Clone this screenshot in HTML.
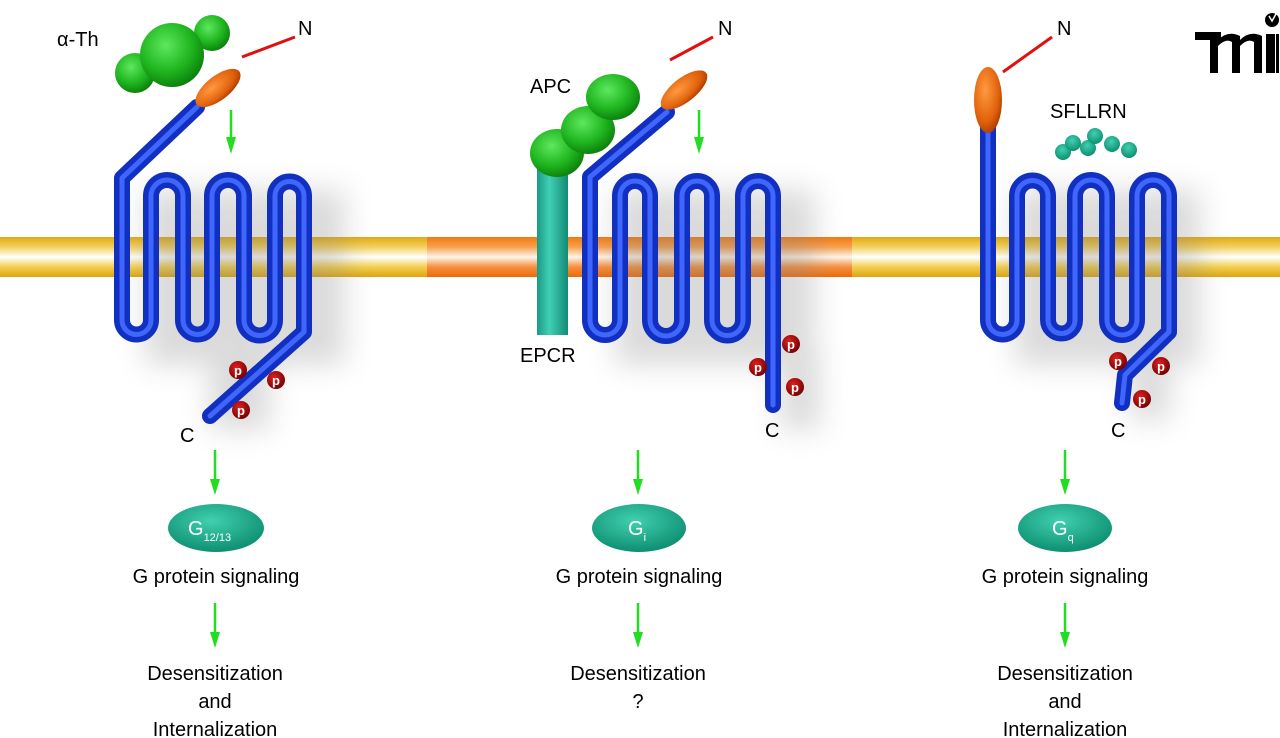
<!DOCTYPE html>
<html><head><meta charset="utf-8"><style>
html,body{margin:0;padding:0;background:#fff;}
svg{display:block;font-family:"Liberation Sans",sans-serif;}
</style></head><body>
<svg width="1280" height="738" viewBox="0 0 1280 738" xmlns="http://www.w3.org/2000/svg">
<defs>
<linearGradient id="mem" x1="0" y1="0" x2="0" y2="1">
<stop offset="0" stop-color="#e2aa10"/><stop offset="0.25" stop-color="#f3d060"/><stop offset="0.5" stop-color="#ffffff"/><stop offset="0.75" stop-color="#f3cf50"/><stop offset="1" stop-color="#dda410"/></linearGradient>
<linearGradient id="memo" x1="0" y1="0" x2="0" y2="1">
<stop offset="0" stop-color="#f07a10"/><stop offset="0.25" stop-color="#f8a050"/><stop offset="0.5" stop-color="#fff4ea"/><stop offset="0.75" stop-color="#f59040"/><stop offset="1" stop-color="#ec6a08"/></linearGradient>
<radialGradient id="grn" cx="0.4" cy="0.35" r="0.7"><stop offset="0" stop-color="#5ee85e"/><stop offset="0.6" stop-color="#1eb41e"/><stop offset="1" stop-color="#0a7a0a"/></radialGradient>
<radialGradient id="org" cx="0.4" cy="0.35" r="0.7"><stop offset="0" stop-color="#ff9a40"/><stop offset="0.7" stop-color="#e0600a"/><stop offset="1" stop-color="#a83a00"/></radialGradient>
<radialGradient id="teal" cx="0.45" cy="0.35" r="0.7"><stop offset="0" stop-color="#40d0b0"/><stop offset="1" stop-color="#0a8a6c"/></radialGradient>
<radialGradient id="pr" cx="0.4" cy="0.35" r="0.7"><stop offset="0" stop-color="#e02020"/><stop offset="1" stop-color="#700000"/></radialGradient>
<linearGradient id="epcr" x1="0" y1="0" x2="1" y2="0"><stop offset="0" stop-color="#1a9a84"/><stop offset="0.4" stop-color="#40d0b4"/><stop offset="1" stop-color="#128a74"/></linearGradient>
<filter id="sh" x="-30%" y="-30%" width="160%" height="160%"><feGaussianBlur stdDeviation="14"/></filter>
</defs>

<!-- membrane -->
<rect x="0" y="237" width="427" height="40" fill="url(#mem)"/>
<rect x="427" y="237" width="425" height="40" fill="url(#memo)"/>
<rect x="852" y="237" width="428" height="40" fill="url(#mem)"/>

<!-- shadows -->
<g filter="url(#sh)" fill="#888" opacity="0.3">
<rect x="145" y="190" width="200" height="175"/>
<rect x="615" y="190" width="200" height="175"/>
<rect x="1015" y="190" width="185" height="175"/>
<rect x="210" y="350" width="60" height="80"/>
<rect x="780" y="350" width="40" height="80"/>
<rect x="1130" y="350" width="40" height="70"/>
</g>

<!-- receptor paths -->
<g fill="none" stroke-linejoin="round" stroke-linecap="round">
<path d="M197,107 L122,178 L122,320 A14.5,14.5 0 0 0 151,320 L151,196 A16,16 0 0 1 183,196 L183,320 A14.5,14.5 0 0 0 212,320 L212,196 A16,16 0 0 1 244,196 L244,320 A15.5,15.5 0 0 0 275,320 L275,196 A14.5,14.5 0 0 1 304,196 L304,332 L210,416" stroke="#1230c0" stroke-width="16"/>
<path d="M197,107 L122,178 L122,320 A14.5,14.5 0 0 0 151,320 L151,196 A16,16 0 0 1 183,196 L183,320 A14.5,14.5 0 0 0 212,320 L212,196 A16,16 0 0 1 244,196 L244,320 A15.5,15.5 0 0 0 275,320 L275,196 A14.5,14.5 0 0 1 304,196 L304,332 L210,416" stroke="#3f66ff" stroke-width="5"/>

<path d="M667,112 L590,177 L590,320 A15,15 0 0 0 620,320 L620,196 A15,15 0 0 1 650,196 L650,320 A16,16 0 0 0 682,320 L682,196 A15,15 0 0 1 712,196 L712,320 A15.5,15.5 0 0 0 743,320 L743,196 A15,15 0 0 1 773,196 L773,405" stroke="#1230c0" stroke-width="16"/>
<path d="M667,112 L590,177 L590,320 A15,15 0 0 0 620,320 L620,196 A15,15 0 0 1 650,196 L650,320 A16,16 0 0 0 682,320 L682,196 A15,15 0 0 1 712,196 L712,320 A15.5,15.5 0 0 0 743,320 L743,196 A15,15 0 0 1 773,196 L773,405" stroke="#3f66ff" stroke-width="5"/>

<path d="M988,125 L988,320 A14.5,14.5 0 0 0 1017,320 L1017,196 A15.5,15.5 0 0 1 1048,196 L1048,320 A13.5,13.5 0 0 0 1075,320 L1075,196 A16,16 0 0 1 1107,196 L1107,320 A15,15 0 0 0 1137,320 L1137,196 A16,16 0 0 1 1169,196 L1169,332 L1125,375 L1122,403" stroke="#1230c0" stroke-width="16"/>
<path d="M988,125 L988,320 A14.5,14.5 0 0 0 1017,320 L1017,196 A15.5,15.5 0 0 1 1048,196 L1048,320 A13.5,13.5 0 0 0 1075,320 L1075,196 A16,16 0 0 1 1107,196 L1107,320 A15,15 0 0 0 1137,320 L1137,196 A16,16 0 0 1 1169,196 L1169,332 L1125,375 L1122,403" stroke="#3f66ff" stroke-width="5"/>
</g>

<!-- EPCR and APC -->
<rect x="537" y="165" width="31" height="170" fill="url(#epcr)"/>
<ellipse cx="557" cy="153" rx="27" ry="24" fill="url(#grn)"/>
<ellipse cx="588" cy="130" rx="27" ry="24" fill="url(#grn)"/>
<ellipse cx="613" cy="97" rx="27" ry="23" fill="url(#grn)"/>

<!-- thrombin -->
<circle cx="212" cy="33" r="18" fill="url(#grn)"/>
<circle cx="135" cy="73" r="20" fill="url(#grn)"/>
<circle cx="172" cy="55" r="32" fill="url(#grn)"/>

<!-- orange heads -->
<ellipse cx="218" cy="88" rx="27" ry="12" transform="rotate(-38 218 88)" fill="url(#org)"/>
<ellipse cx="684" cy="90" rx="28" ry="12" transform="rotate(-38 684 90)" fill="url(#org)"/>
<ellipse cx="988" cy="100" rx="14" ry="33" fill="url(#org)"/>

<!-- red N tails -->
<g stroke="#e01010" stroke-width="3">
<line x1="242" y1="57" x2="295" y2="37"/>
<line x1="670" y1="60" x2="713" y2="37"/>
<line x1="1003" y1="72" x2="1052" y2="37"/>
</g>

<!-- SFLLRN balls -->
<g fill="url(#teal)">
<circle cx="1063" cy="152" r="8"/><circle cx="1073" cy="143" r="8"/><circle cx="1088" cy="148" r="8"/><circle cx="1095" cy="136" r="8"/><circle cx="1112" cy="144" r="8"/><circle cx="1129" cy="150" r="8"/>
</g>

<!-- phosphates -->
<g fill="url(#pr)">
<circle cx="238" cy="370" r="9"/><circle cx="276" cy="380" r="9"/><circle cx="241" cy="410" r="9"/>
<circle cx="791" cy="344" r="9"/><circle cx="758" cy="367" r="9"/><circle cx="795" cy="387" r="9"/>
<circle cx="1118" cy="361" r="9"/><circle cx="1161" cy="366" r="9"/><circle cx="1142" cy="399" r="9"/>
</g>
<g fill="#fff" font-size="13" font-weight="bold" text-anchor="middle">
<text x="238" y="375">p</text><text x="276" y="385">p</text><text x="241" y="415">p</text>
<text x="791" y="349">p</text><text x="758" y="372">p</text><text x="795" y="392">p</text>
<text x="1118" y="366">p</text><text x="1161" y="371">p</text><text x="1142" y="404">p</text>
</g>

<!-- arrows -->
<g stroke="#22dd22" stroke-width="2.5">
<line x1="231" y1="110" x2="231" y2="140"/>
<line x1="699" y1="110" x2="699" y2="140"/>
<line x1="215" y1="450" x2="215" y2="482"/>
<line x1="638" y1="450" x2="638" y2="482"/>
<line x1="1065" y1="450" x2="1065" y2="482"/>
<line x1="215" y1="603" x2="215" y2="635"/>
<line x1="638" y1="603" x2="638" y2="635"/>
<line x1="1065" y1="603" x2="1065" y2="635"/>
</g>
<g fill="#22dd22">
<path d="M226,137 L236,137 L231,154 Z"/>
<path d="M694,137 L704,137 L699,154 Z"/>
<path d="M210,479 L220,479 L215,495 Z"/>
<path d="M633,479 L643,479 L638,495 Z"/>
<path d="M1060,479 L1070,479 L1065,495 Z"/>
<path d="M210,632 L220,632 L215,648 Z"/>
<path d="M633,632 L643,632 L638,648 Z"/>
<path d="M1060,632 L1070,632 L1065,648 Z"/>
</g>

<!-- G ovals -->
<ellipse cx="216" cy="528" rx="48" ry="24" fill="url(#teal)"/>
<ellipse cx="639" cy="528" rx="47" ry="24" fill="url(#teal)"/>
<ellipse cx="1065" cy="528" rx="47" ry="24" fill="url(#teal)"/>
<g fill="#fff">
<text x="188" y="535" font-size="20">G<tspan font-size="11" dy="6">12/13</tspan></text>
<text x="628" y="535" font-size="20">G<tspan font-size="11" dy="6">i</tspan></text>
<text x="1052" y="535" font-size="20">G<tspan font-size="11" dy="6">q</tspan></text>
</g>

<!-- labels -->
<g fill="#000" font-size="20">
<text x="57" y="46">α-Th</text>
<text x="298" y="35">N</text>
<text x="718" y="35">N</text>
<text x="1057" y="35">N</text>
<text x="530" y="93">APC</text>
<text x="520" y="362">EPCR</text>
<text x="1050" y="118">SFLLRN</text>
<text x="180" y="442">C</text>
<text x="765" y="437">C</text>
<text x="1111" y="437">C</text>
</g>
<g fill="#000" font-size="20" text-anchor="middle">
<text x="216" y="583">G protein signaling</text>
<text x="639" y="583">G protein signaling</text>
<text x="1065" y="583">G protein signaling</text>
<text x="215" y="680">Desensitization</text>
<text x="215" y="708">and</text>
<text x="215" y="736">Internalization</text>
<text x="638" y="680">Desensitization</text>
<text x="638" y="708">?</text>
<text x="1065" y="680">Desensitization</text>
<text x="1065" y="708">and</text>
<text x="1065" y="736">Internalization</text>
</g>

<!-- logo -->
<g fill="#000">
<rect x="1195" y="32" width="26" height="8"/>
<rect x="1210" y="32" width="8" height="41"/>
<path d="M1218,40 Q1228,30 1240,36 L1240,73 L1232,73 L1232,42 Q1226,38 1218,46 Z"/>
<path d="M1240,40 Q1250,30 1262,36 L1262,73 L1254,73 L1254,42 Q1248,38 1240,46 Z"/>
<rect x="1266" y="34" width="9" height="39"/>
<circle cx="1272" cy="20" r="7"/>
<rect x="1276" y="34" width="3" height="39"/>
</g>
<path d="M1269,16 L1272,21 L1276,14" stroke="#fff" stroke-width="1.5" fill="none"/>
</svg>
</body></html>
